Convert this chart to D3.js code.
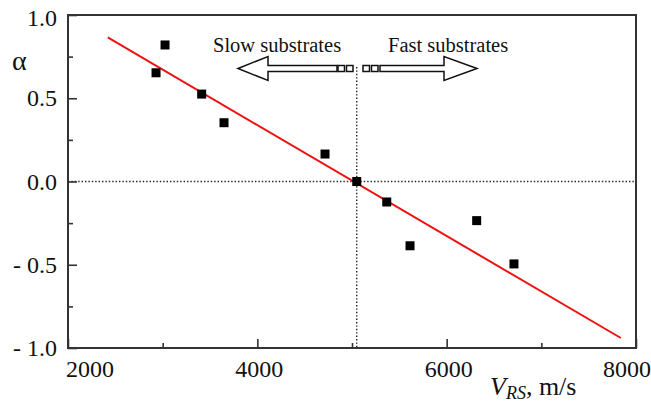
<!DOCTYPE html>
<html>
<head>
<meta charset="utf-8">
<script src="https://cdn.jsdelivr.net/npm/d3@7"></script>
<style>
  body { margin: 0; background: #fff; }
  svg { display: block; }
  text { font-family: "Liberation Serif", "Times New Roman", serif; fill: #111; }
</style>
</head>
<body>
<svg id="chart" width="651" height="404"></svg>
<script>
// measured points: substrate Rayleigh velocity vs alpha
var velocity = [2930, 3025, 3412, 3648, 4715, 5050, 5367, 5613, 6317, 6711];
var alpha    = [0.653, 0.82, 0.525, 0.353, 0.165, 0.0, -0.123, -0.386, -0.235, -0.495];

// linear fit, end points
var fitV = [2420, 7840];
var fitA = [0.865, -0.940];

var xTicks = [2000, 4000, 6000, 8000];
var xMinor = [3000, 5000, 7000];
var yTicks = [1.0, 0.5, 0.0, -0.5, -1.0];
var yMinor = [0.75, 0.25, -0.25, -0.75];
var yTickLabels = ["1.0", "0.5", "0.0", "- 0.5", "- 1.0"];
var splitV = 5050;

var svg = d3.select("#chart");
var plotL = 68, plotR = 636, plotT = 15, plotB = 348;

var x = d3.scaleLinear().domain([2000, 8000]).range([plotL, plotR]);
var y = d3.scaleLinear().domain([-1, 1]).range([plotB, plotT]);

// dotted guides
svg.append("line")
    .attr("x1", plotL).attr("x2", plotR)
    .attr("y1", y(0)).attr("y2", y(0))
    .attr("stroke", "#222").attr("stroke-width", 1.4)
    .attr("stroke-dasharray", "1.4,2");
svg.append("line")
    .attr("x1", x(splitV)).attr("x2", x(splitV))
    .attr("y1", 67).attr("y2", plotB)
    .attr("stroke", "#222").attr("stroke-width", 1.4)
    .attr("stroke-dasharray", "1.4,2");

// fit line
svg.append("line")
    .attr("x1", x(fitV[0])).attr("y1", y(fitA[0]))
    .attr("x2", x(fitV[1])).attr("y2", y(fitA[1]))
    .attr("stroke", "#ee1111").attr("stroke-width", 2);

// points
var sz = 9;
svg.selectAll("rect.pt")
    .data(velocity)
    .enter().append("rect")
    .attr("class", "pt")
    .attr("x", function (d) { return x(d) - sz / 2; })
    .attr("y", function (d, i) { return y(alpha[i]) - sz / 2; })
    .attr("width", sz).attr("height", sz)
    .attr("fill", "#000");

// frame
svg.append("rect")
    .attr("x", plotL).attr("y", plotT)
    .attr("width", plotR - plotL).attr("height", plotB - plotT)
    .attr("fill", "none").attr("stroke", "#333").attr("stroke-width", 2);

// ticks (inside)
var xAxis = svg.append("g").attr("transform", "translate(0," + plotB + ")");
xAxis.call(d3.axisBottom(x).tickValues(xTicks).tickSizeInner(-9).tickSizeOuter(0).tickFormat(""));
xAxis.append("g").call(d3.axisBottom(x).tickValues(xMinor).tickSizeInner(-5).tickSizeOuter(0).tickFormat(""));
xAxis.selectAll(".domain").remove();
xAxis.selectAll("line").attr("stroke", "#333").attr("stroke-width", 1.6);

var yAxis = svg.append("g").attr("transform", "translate(" + plotL + ",0)");
yAxis.call(d3.axisLeft(y).tickValues(yTicks).tickSizeInner(-9).tickSizeOuter(0).tickFormat(""));
yAxis.append("g").call(d3.axisLeft(y).tickValues(yMinor).tickSizeInner(-5).tickSizeOuter(0).tickFormat(""));
yAxis.selectAll(".domain").remove();
yAxis.selectAll("line").attr("stroke", "#333").attr("stroke-width", 1.6);

// tick labels
svg.selectAll("text.xl")
    .data(xTicks)
    .enter().append("text")
    .attr("class", "xl")
    .attr("x", function (d, i) { return x(d) + (i === 0 ? 22 : (i === xTicks.length - 1 ? -9 : 2)); })
    .attr("y", 377)
    .attr("text-anchor", "middle")
    .attr("font-size", 24)
    .text(function (d) { return d; });

svg.selectAll("text.yl")
    .data(yTicks)
    .enter().append("text")
    .attr("class", "yl")
    .attr("x", 57)
    .attr("y", function (d, i) { return y(d) + 8 + (i === 0 ? 3 : 0); })
    .attr("text-anchor", "end")
    .attr("font-size", 24)
    .text(function (d, i) { return yTickLabels[i]; });

// axis titles
svg.append("text")
    .attr("x", 12).attr("y", 70)
    .attr("font-size", 28)
    .text("\u03b1");

var xt = svg.append("text").attr("x", 490).attr("y", 395).attr("font-size", 26);
xt.append("tspan").attr("font-style", "italic").text("V");
xt.append("tspan").attr("font-style", "italic").attr("font-size", 18).attr("dy", 4).text("RS");
xt.append("tspan").attr("dy", -4).text(", m/s");

// arrows
var ay = 68.5;
var arrowStyle = function (sel) {
    return sel.attr("fill", "#fff").attr("stroke", "#111").attr("stroke-width", 1.5);
};
// left arrow
arrowStyle(svg.append("path")
    .attr("d", "M238," + ay + " L268," + (ay - 12) + " L268," + (ay - 3) +
        " L337," + (ay - 3) + " L337," + (ay + 3) + " L268," + (ay + 3) +
        " L268," + (ay + 12) + " Z"));
// right arrow
arrowStyle(svg.append("path")
    .attr("d", "M477," + ay + " L444," + (ay - 12) + " L444," + (ay - 3) +
        " L380," + (ay - 3) + " L380," + (ay + 3) + " L444," + (ay + 3) +
        " L444," + (ay + 12) + " Z"));
// little blocks
[338, 346.5, 363, 371.5].forEach(function (bx) {
    arrowStyle(svg.append("rect")
        .attr("x", bx).attr("y", ay - 3)
        .attr("width", 6.5).attr("height", 6));
});

svg.append("text").attr("x", 213).attr("y", 52).attr("font-size", 20.5).text("Slow substrates");
svg.append("text").attr("x", 388).attr("y", 52).attr("font-size", 20.5).text("Fast substrates");
</script>
</body>
</html>
